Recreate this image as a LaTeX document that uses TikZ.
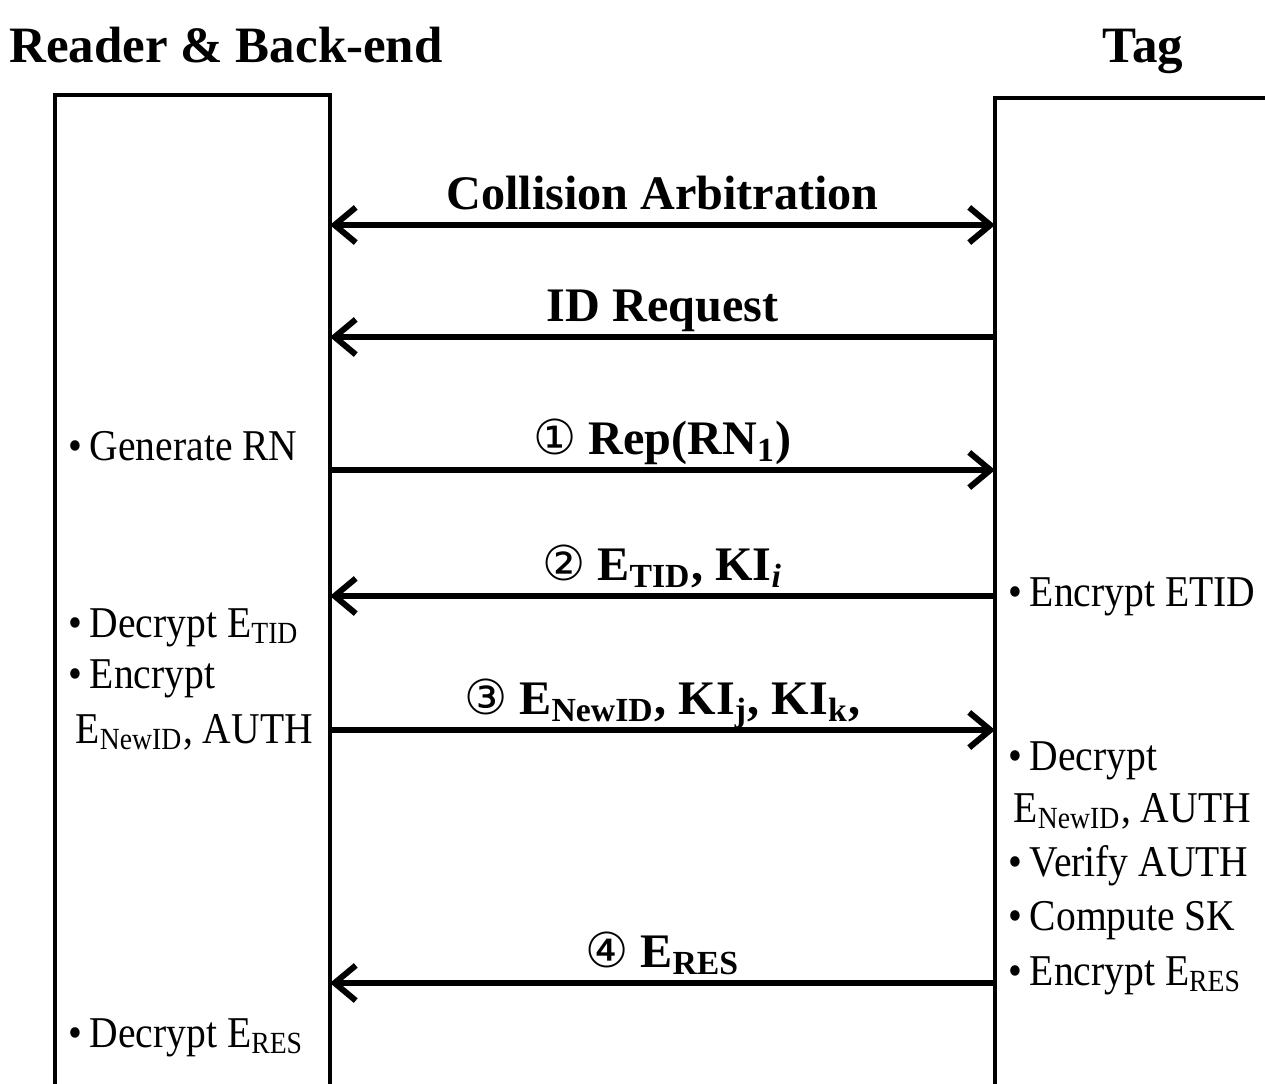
\documentclass[tikz,border=0pt]{standalone}
\usepackage{fontspec}
\setmainfont{Liberation Serif}
\newfontfamily\notefont[FakeStretch=0.9]{Liberation Serif}
\newfontfamily\circfont{DejaVu Sans}
\usetikzlibrary{arrows.meta}

\newcommand{\cnum}[1]{{\circfont\mdseries #1}}

\begin{document}
\begin{tikzpicture}[x=0.01cm, y=-0.01cm,
  every node/.style={inner sep=0pt},
  >={Straight Barb[length=6pt, width=10pt]},
  box/.style={line width=0.9pt},
  msg/.style={line width=1.7pt},
  lbl/.style={midway, anchor=base, yshift=4.5pt, font=\fontsize{13.7}{16}\selectfont\bfseries},
  note/.style={anchor=base west, font=\notefont\fontsize{12.5}{14}\selectfont},
  head/.style={anchor=base, font=\fontsize{14.5}{18}\selectfont\bfseries}]
  \useasboundingbox (0,0) rectangle (1265,1084);
  % --- headers ---
  \node[head] (reader) at (226,62) {Reader \& Back-end};
  \node[head] (tag) at (1143,62) {Tag};
  % --- left: reader box ---
  \draw[box] (55,1095) -- (55,95) -- (330,95) -- (330,1095);
  \coordinate (r1) at (330,225);
  \coordinate (r2) at (330,337);
  \coordinate (r3) at (330,470);
  \coordinate (r4) at (330,596);
  \coordinate (r5) at (330,730);
  \coordinate (r6) at (330,983);
  \node[note] (gen) at (68,460) {\textbullet\,Generate RN};
  \node[note] (dectid) at (68,637) {\textbullet\,Decrypt E\textsubscript{TID}};
  \node[note] (encnew) at (68,688) {\textbullet\,Encrypt};
  \node[note] (encnewb) at (75,743) {E\textsubscript{NewID}, AUTH};
  \node[note] (decres) at (68,1047) {\textbullet\,Decrypt E\textsubscript{RES}};
  % --- right: tag box ---
  \draw[box] (995,1095) -- (995,98) -- (1275,98);
  \coordinate (t1) at (995,225);
  \coordinate (t2) at (995,337);
  \coordinate (t3) at (995,470);
  \coordinate (t4) at (995,596);
  \coordinate (t5) at (995,730);
  \coordinate (t6) at (995,983);
  \node[note] (enctid) at (1008,606) {\textbullet\,Encrypt ETID};
  \node[note] (decnew) at (1008,770) {\textbullet\,Decrypt};
  \node[note] (decnewb) at (1013,822) {E\textsubscript{NewID}, AUTH};
  \node[note] (verify) at (1008,876) {\textbullet\,Verify AUTH};
  \node[note] (compsk) at (1008,930) {\textbullet\,Compute SK};
  \node[note] (encres) at (1008,985) {\textbullet\,Encrypt E\textsubscript{RES}};
  % --- messages ---
  \draw[msg, <->] (r1) -- node[lbl] {Collision Arbitration} (t1);
  \draw[msg, ->] (t2) -- node[lbl] {ID Request} (r2);
  \draw[msg, ->] (r3) -- node[lbl] {\cnum{①} Rep(RN\textsubscript{1})} (t3);
  \draw[msg, ->] (t4) -- node[lbl] {\cnum{②} E\textsubscript{TID}, KI\textsubscript{\itshape i}} (r4);
  \draw[msg, ->] (r5) -- node[lbl] {\cnum{③}\ E\textsubscript{NewID},\ KI\textsubscript{j},\ KI\textsubscript{k},} (t5);
  \draw[msg, ->] (t6) -- node[lbl] {\cnum{④} E\textsubscript{RES}} (r6);
\end{tikzpicture}
\end{document}
